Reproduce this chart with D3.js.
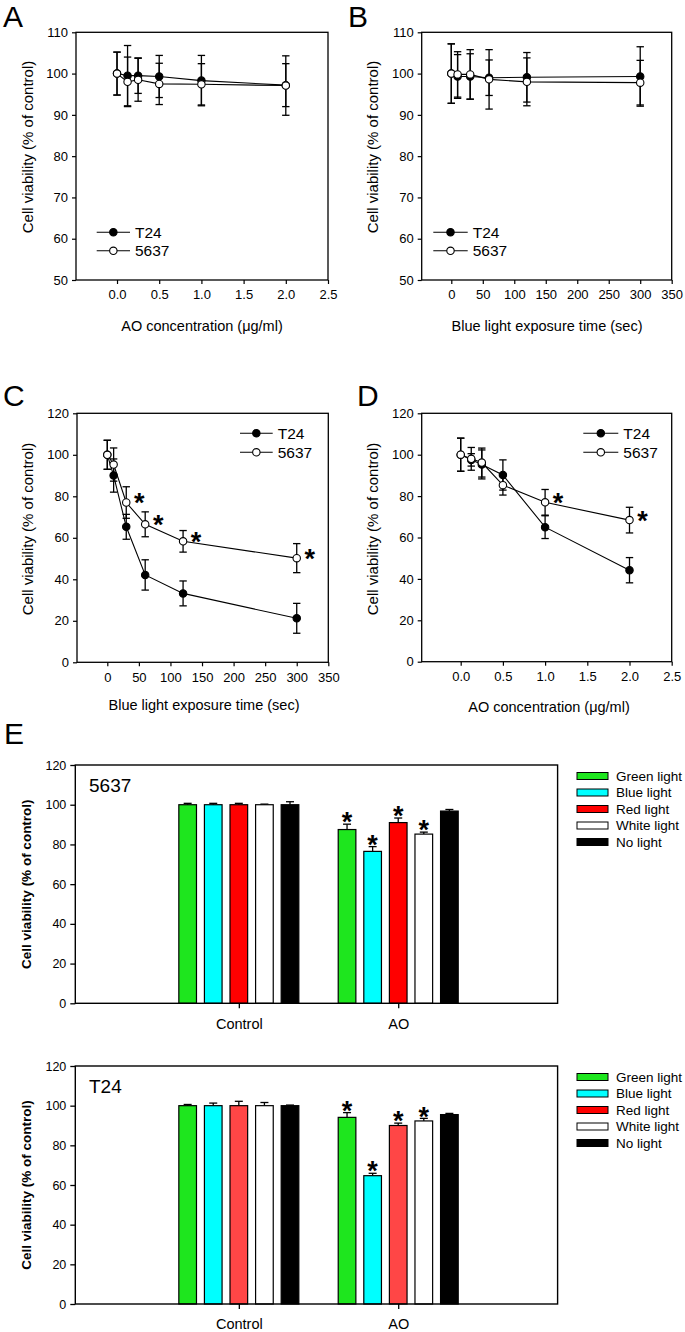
<!DOCTYPE html>
<html><head><meta charset="utf-8">
<script src="https://cdn.jsdelivr.net/npm/d3@7"></script>
<style>
body{margin:0;background:#fff}
svg{display:block}
text{font-family:Arial,"Liberation Sans",sans-serif;fill:#000}
</style>
</head><body>
<svg id="c" width="685" height="1332"></svg>
<script>
// ---------------- DATA ----------------
const aoConc   = [0, 0.125, 0.25, 0.5, 1.0, 2.0];
const blueTime = [0, 10, 30, 60, 120, 300];
const seriesNames = ["T24", "5637"];

// Panel A: AO concentration alone
const aT24     = [100, 99.5, 99.5, 99.3, 98.3, 97.2];
const aT24Err  = [5.2, 7.3, 4.3, 5.1, 6.1, 5.2];
const a5637    = [100, 98.0, 98.5, 97.5, 97.4, 97.1];
const a5637Err = [5.2, 6.0, 5.2, 5.0, 5.0, 7.2];

// Panel B: blue light alone
const bT24     = [100, 99.3, 99.3, 99.0, 99.1, 99.3];
const bT24Err  = [7.2, 5.3, 5.5, 4.3, 6.0, 7.2];
const b5637    = [100, 99.8, 99.8, 98.6, 98.0, 97.8];
const b5637Err = [7.2, 5.5, 6.0, 7.2, 5.8, 5.4];

// Panel C: AO + blue light exposure time
const cT24     = [100, 90.0, 65.3, 42.1, 33.2, 21.2];
const cT24Err  = [7.0, 8.0, 6.0, 7.3, 6.0, 7.2];
const c5637    = [100, 95.3, 77.0, 66.5, 58.3, 50.2];
const c5637Err = [7.0, 8.0, 7.6, 6.0, 5.2, 7.0];
const cSig     = [false, false, true, true, true, true];

// Panel D: AO concentration + blue light
const dT24     = [100, 97.5, 95.3, 90.2, 65.0, 44.2];
const dT24Err  = [8.0, 3.0, 7.0, 7.3, 5.5, 6.1];
const d5637    = [100, 98.0, 96.2, 85.3, 77.0, 68.4];
const d5637Err = [8.0, 5.5, 7.0, 4.8, 6.2, 6.2];
const dSig     = [false, false, false, false, true, true];

// Panel E: light sources
const lights = ["Green light", "Blue light", "Red light", "White light", "No light"];
const groups = ["Control", "AO"];
const e5637Control    = [100, 100, 100, 100, 100];
const e5637ControlErr = [0.7, 0.7, 0.7, 0.3, 1.5];
const e5637AO         = [87.5, 76.5, 91.0, 85.2, 96.8];
const e5637AOErr      = [2.7, 2.4, 2.3, 1.0, 0.8];
const e5637AOSig      = [true, true, true, true, false];
const eT24Control     = [100, 100, 100, 100, 100];
const eT24ControlErr  = [0.6, 1.3, 2.2, 1.6, 0.3];
const eT24AO          = [94.1, 64.7, 90.0, 92.3, 95.5];
const eT24AOErr       = [2.4, 1.2, 1.2, 1.3, 0.6];
const eT24AOSig       = [true, true, true, true, false];

// tick values
const yTicksAB = [50, 60, 70, 80, 90, 100, 110];
const yTicksCD = [0, 20, 40, 60, 80, 100, 120];
const xTicksConc = [0, 0.5, 1.0, 1.5, 2.0, 2.5];
const xTicksTime = [0, 50, 100, 150, 200, 250, 300, 350];

// styles (kept separate)
const lightColors5637 = ["#1ee61e", "#00ffff", "#ff0000", "#ffffff", "#000000"];
const lightColorsT24  = ["#1ee61e", "#00ffff", "#ff4646", "#ffffff", "#000000"];
const legendColors    = ["#1ee61e", "#00ffff", "#ff0000", "#ffffff", "#000000"];

// ---------------- DRAWING ----------------
const svg = d3.select("#c");
svg.append("rect").attr("width",685).attr("height",1332).attr("fill","#fff");

function star(g, cx, cy, size) {
  g.append("text").attr("x", cx).attr("y", cy + size*0.58)
    .attr("text-anchor","middle").attr("font-size", size).attr("font-weight","bold").text("*");
}

function linePanel(o) {
  const g = svg.append("g");
  const x = d3.scaleLinear().domain(o.xDomain).range([o.f.x0, o.f.x1]);
  const y = d3.scaleLinear().domain(o.yDomain).range([o.f.y1, o.f.y0]);

  const ya = g.append("g").attr("transform",`translate(${o.f.x0},0)`)
    .call(d3.axisLeft(y).tickValues(o.yTicks).tickSize(4).tickPadding(4).tickFormat(d3.format("d")));
  const xa = g.append("g").attr("transform",`translate(0,${o.f.y1})`)
    .call(d3.axisBottom(x).tickValues(o.xTicks).tickSize(4).tickPadding(6).tickFormat(o.xFmt));
  [ya, xa].forEach(a => {
    a.select(".domain").remove();
    a.selectAll("line").attr("stroke","#000").attr("stroke-width",1.2);
    a.selectAll("text").attr("font-size",13).attr("font-family","Arial, 'Liberation Sans', sans-serif").attr("fill","#000");
  });
  g.append("rect").attr("x",o.f.x0).attr("y",o.f.y0)
    .attr("width",o.f.x1-o.f.x0).attr("height",o.f.y1-o.f.y0)
    .attr("fill","none").attr("stroke","#000").attr("stroke-width",1.3);

  const line = d3.line().x((d,i)=>x(o.xs[i])).y(d=>y(d));
  o.series.forEach(s => {
    g.append("path").datum(s.vals).attr("d", line)
      .attr("fill","none").attr("stroke","#000").attr("stroke-width",1.1);
  });
  o.series.forEach(s => {
    s.vals.forEach((v,i) => {
      const px = x(o.xs[i]), e = s.errs[i];
      g.append("line").attr("x1",px).attr("x2",px).attr("y1",y(v+e)).attr("y2",y(v-e))
        .attr("stroke","#000").attr("stroke-width",1.3);
      [v+e, v-e].forEach(t => g.append("line").attr("x1",px-3.7).attr("x2",px+3.7)
        .attr("y1",y(t)).attr("y2",y(t)).attr("stroke","#000").attr("stroke-width",1.3));
    });
  });
  o.series.forEach(s => {
    s.vals.forEach((v,i) => {
      g.append("circle").attr("cx",x(o.xs[i])).attr("cy",y(v)).attr("r",3.7)
        .attr("fill", s.filled ? "#000" : "#fff").attr("stroke","#000").attr("stroke-width",1.1);
    });
  });
  if (o.sig) {
    o.sig.forEach((sg,i) => {
      if (!sg) return;
      const s = o.series[1];
      star(g, x(o.xs[i]) + 13, y(s.vals[i]) - 6, 27);
    });
  }
  // legend
  const L = o.legend;
  o.series.forEach((s,k) => {
    const ly = L.y + k*L.dy;
    g.append("line").attr("x1",L.x1).attr("x2",L.x2).attr("y1",ly).attr("y2",ly)
      .attr("stroke","#000").attr("stroke-width",1.1);
    g.append("circle").attr("cx",(L.x1+L.x2)/2).attr("cy",ly).attr("r",3.7)
      .attr("fill", s.filled ? "#000" : "#fff").attr("stroke","#000").attr("stroke-width",1.1);
    g.append("text").attr("x",L.x2+5).attr("y",ly).attr("dy","0.36em")
      .attr("font-size",15.5).text(seriesNames[k]);
  });
  // titles
  g.append("text").attr("x",o.xTitle[1]).attr("y",o.xTitle[2]).attr("dy","0.36em")
    .attr("text-anchor","middle").attr("font-size",14.5).text(o.xTitle[0]);
  g.append("text").attr("transform",`translate(${o.yTitle[0]},${o.yTitle[1]}) rotate(-90)`)
    .attr("dy","0.36em").attr("text-anchor","middle").attr("font-size",15)
    .text("Cell viability (% of control)");
  g.append("text").attr("x",o.letter[1]).attr("y",o.letter[2]).attr("font-size",30).text(o.letter[0]);
}

const fmt1 = d3.format(".1f"), fmt0 = d3.format("d");

linePanel({
  f:{x0:76,x1:328,y0:32.3,y1:280}, xDomain:[-0.486,2.5], yDomain:[50,110],
  yTicks:yTicksAB, xTicks:xTicksConc, xFmt:fmt1, xs:aoConc,
  series:[{vals:aT24,errs:aT24Err,filled:true},{vals:a5637,errs:a5637Err,filled:false}],
  legend:{x1:96.7,x2:130,y:232.3,dy:18.5},
  xTitle:["AO concentration (\u03bcg/ml)",202,326], yTitle:[28,147], letter:["A",3,27]
});
linePanel({
  f:{x0:421.7,x1:671.7,y0:32.3,y1:280}, xDomain:[-47,350], yDomain:[50,110],
  yTicks:yTicksAB, xTicks:xTicksTime, xFmt:fmt0, xs:blueTime,
  series:[{vals:bT24,errs:bT24Err,filled:true},{vals:b5637,errs:b5637Err,filled:false}],
  legend:{x1:433.3,x2:467.7,y:232.3,dy:18.5},
  xTitle:["Blue light exposure time (sec)",547,326], yTitle:[373,147], letter:["B",348,27]
});
linePanel({
  f:{x0:77,x1:328.3,y0:413.3,y1:662.3}, xDomain:[-48,350], yDomain:[0,120],
  yTicks:yTicksCD, xTicks:xTicksTime, xFmt:fmt0, xs:blueTime,
  series:[{vals:cT24,errs:cT24Err,filled:true},{vals:c5637,errs:c5637Err,filled:false}],
  sig:cSig,
  legend:{x1:240,x2:272.7,y:433.3,dy:19},
  xTitle:["Blue light exposure time (sec)",204,705], yTitle:[28,529], letter:["C",3,406]
});
linePanel({
  f:{x0:421.7,x1:671.7,y0:413.3,y1:661.7}, xDomain:[-0.462,2.5], yDomain:[0,120],
  yTicks:yTicksCD, xTicks:xTicksConc, xFmt:fmt1, xs:aoConc,
  series:[{vals:dT24,errs:dT24Err,filled:true},{vals:d5637,errs:d5637Err,filled:false}],
  sig:dSig,
  legend:{x1:583.3,x2:618.3,y:433.3,dy:19},
  xTitle:["AO concentration (\u03bcg/ml)",549,707], yTitle:[373,529], letter:["D",357,406]
});

function barPanel(o) {
  const g = svg.append("g");
  const x0 = d3.scaleLinear().domain([-0.026,3]).range([o.f.x0,o.f.x1]);
  const xb = d3.scaleBand().domain(lights).range([-60,60]).paddingInner(0.31).paddingOuter(0);
  const y = d3.scaleLinear().domain([0,120]).range([o.f.y1,o.f.y0]);

  const ya = g.append("g").attr("transform",`translate(${o.f.x0},0)`)
    .call(d3.axisLeft(y).tickValues(yTicksCD).tickSize(5).tickPadding(4));
  const xa = g.append("g").attr("transform",`translate(0,${o.f.y1})`)
    .call(d3.axisBottom(x0).tickValues([1,2]).tickSize(5).tickPadding(10).tickFormat((d,i)=>groups[i]));
  [ya, xa].forEach(a => {
    a.select(".domain").remove();
    a.selectAll("line").attr("stroke","#000").attr("stroke-width",1.3);
    a.selectAll("text").attr("font-family","Arial, 'Liberation Sans', sans-serif").attr("fill","#000");
  });
  ya.selectAll("text").attr("font-size",12.5);
  xa.selectAll("text").attr("font-size",14.5);

  o.data.forEach((grp, gi) => {
    grp.vals.forEach((v,j) => {
      const bx = x0(gi+1) + xb(lights[j]);
      const bw = xb.bandwidth();
      const e = grp.errs[j];
      g.append("line").attr("x1",bx+bw/2).attr("x2",bx+bw/2).attr("y1",y(v)).attr("y2",y(v+e))
        .attr("stroke","#000").attr("stroke-width",1.3);
      g.append("line").attr("x1",bx+bw/2-4).attr("x2",bx+bw/2+4).attr("y1",y(v+e)).attr("y2",y(v+e))
        .attr("stroke","#000").attr("stroke-width",1.3);
      g.append("rect").attr("x",bx).attr("y",y(v)).attr("width",bw).attr("height",y(0)-y(v))
        .attr("fill",o.colors[j]).attr("stroke","#000").attr("stroke-width",1.2);
      if (grp.sig && grp.sig[j]) star(g, bx+bw/2, y(v+e) - 8.5, 27);
    });
  });

  g.append("rect").attr("x",o.f.x0).attr("y",o.f.y0)
    .attr("width",o.f.x1-o.f.x0).attr("height",o.f.y1-o.f.y0)
    .attr("fill","none").attr("stroke","#000").attr("stroke-width",1.4);

  g.append("text").attr("x",89).attr("y",o.f.y0+20).attr("dy","0.36em")
    .attr("font-size",19).text(o.label);
  g.append("text").attr("transform",`translate(26,${(o.f.y0+o.f.y1)/2}) rotate(-90)`)
    .attr("dy","0.36em").attr("text-anchor","middle").attr("font-size",13.5).attr("font-weight","bold")
    .text("Cell viability (% of control)");

  lights.forEach((l,j) => {
    const ly = o.f.y0 + 11 + j*16.5;
    g.append("rect").attr("x",577).attr("y",ly-3.5).attr("width",31).attr("height",7)
      .attr("fill",legendColors[j]).attr("stroke","#000").attr("stroke-width",1);
    g.append("text").attr("x",616).attr("y",ly).attr("dy","0.36em").attr("font-size",13.5).text(l);
  });
}

barPanel({
  f:{x0:75.3,x1:557.6,y0:765,y1:1003.3}, label:"5637", colors:lightColors5637,
  data:[{vals:e5637Control,errs:e5637ControlErr},{vals:e5637AO,errs:e5637AOErr,sig:e5637AOSig}]
});
barPanel({
  f:{x0:75.3,x1:557.6,y0:1066,y1:1304}, label:"T24", colors:lightColorsT24,
  data:[{vals:eT24Control,errs:eT24ControlErr},{vals:eT24AO,errs:eT24AOErr,sig:eT24AOSig}]
});
svg.append("text").attr("x",4).attr("y",744).attr("font-size",30).text("E");
</script>
</body></html>
